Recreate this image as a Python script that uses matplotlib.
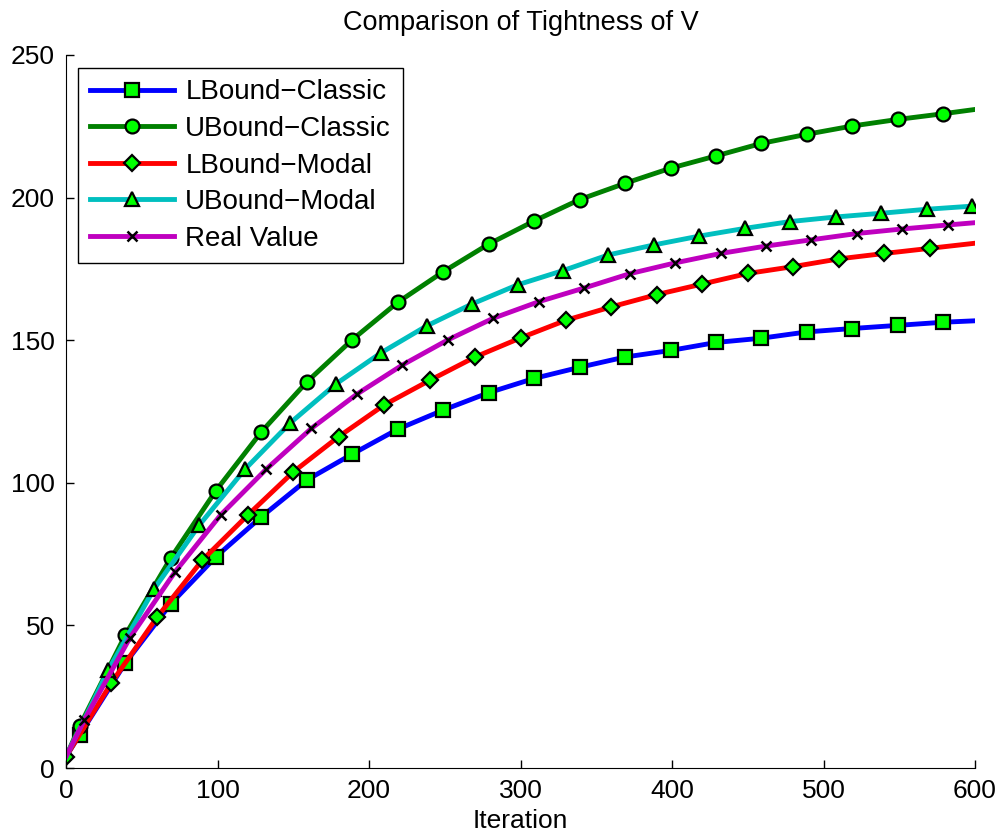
import numpy as np
import matplotlib
matplotlib.use("Agg")
import matplotlib.pyplot as plt

plt.rcParams['font.family'] = ['Liberation Sans', 'DejaVu Sans']

it_classic = [0, 9, 39, 69, 99, 129, 159, 189, 219, 249, 279, 309, 339, 369, 399,
              429, 459, 489, 519, 549, 579, 600]
lb_classic = [4, 11.6, 36.7, 57.5, 74.1, 88.1, 101, 110.1, 118.8, 125.5, 131.6, 136.6,
              140.5, 144.1, 146.4, 149.2, 150.7, 152.9, 154.1, 155.2, 156.3, 156.8]
ub_classic = [4, 14.7, 46.5, 73.5, 97.3, 117.9, 135.4, 150.2, 163.3, 174, 183.7, 191.8,
              199.3, 205, 210.3, 214.6, 219, 222.2, 225.1, 227.4, 229.4, 230.9]

it_lb_modal = [0, 30, 60, 90, 120, 150, 180, 210, 240, 270, 300, 330, 360, 390, 420,
               450, 480, 510, 540, 570, 600]
lb_modal = [4, 29.9, 52.8, 72.9, 88.7, 103.8, 116.2, 127.3, 135.9, 144.1, 150.8, 157,
            161.7, 166, 169.7, 173.4, 175.8, 178.5, 180.4, 182.2, 184]

it_ub_modal = [0, 28, 58, 88, 118, 148, 178, 208, 238, 268, 298, 328, 358, 388, 418,
               448, 478, 508, 538, 568, 598, 600]
ub_modal = [4, 34.4, 62.7, 85.2, 104.7, 121, 134.6, 145.6, 155, 162.7, 169.4, 174.4,
            179.9, 183.4, 186.5, 189.2, 191.6, 193.2, 194.5, 195.9, 197, 197.1]

it_real = [0, 12, 42, 72, 102, 132, 162, 192, 222, 252, 282, 312, 342, 372, 402,
           432, 462, 492, 522, 552, 582, 600]
real_value = [4, 16.8, 45.5, 68.8, 88.7, 104.7, 119.1, 131.1, 141.3, 150.1, 157.7,
              163.5, 168.3, 173.3, 177.1, 180.4, 183, 185.2, 187.4, 189, 190.4, 191.2]

fig = plt.figure(figsize=(10.05, 8.38), dpi=100)
ax = fig.add_axes([0.0657, 0.0835, 0.9045, 0.8509])

face = '#00ff00'
common = dict(lw=3.5, markerfacecolor=face, markeredgecolor='black', markeredgewidth=1.6)

ax.plot(it_classic, lb_classic, color='#0000ff', marker='s', markersize=9.5,
        markevery=list(range(1, 21)), label='LBound\u2212Classic', **common)
ax.plot(it_classic, ub_classic, color='#008000', marker='o', markersize=10,
        markevery=list(range(1, 21)), label='UBound\u2212Classic', **common)
ax.plot(it_lb_modal, lb_modal, color='#ff0000', marker='D', markersize=8,
        markevery=list(range(0, 20)), label='LBound\u2212Modal', **common)
ax.plot(it_ub_modal, ub_modal, color='#00bfbf', marker='^', markersize=10,
        markevery=list(range(1, 21)), label='UBound\u2212Modal', **common)
ax.plot(it_real, real_value, color='#bf00bf', marker='x', markersize=7,
        markevery=list(range(1, 21)), label='Real Value', lw=3.5,
        markeredgecolor='black', markeredgewidth=1.8)

ax.set_xlim(0, 600)
ax.set_ylim(0, 250)
ax.set_xticks(np.arange(0, 601, 100))
ax.set_yticks(np.arange(0, 251, 50))
ax.spines['top'].set_visible(False)
ax.spines['right'].set_visible(False)
ax.tick_params(direction='in', length=6, width=1, labelsize=19, pad=8)
ax.set_xlabel('Iteration', fontsize=19, labelpad=4)
ax.set_title('Comparison of Tightness of V', fontsize=19.5, pad=18)

leg = ax.legend(loc='upper left', bbox_to_anchor=(0.013, 0.982), fontsize=20,
                fancybox=False, edgecolor='black', framealpha=1, borderaxespad=0,
                handlelength=3.05, handletextpad=0.4, labelspacing=0.38,
                borderpad=0.42)
leg.get_frame().set_linewidth(1.0)

fig.savefig('out.png', dpi=100)
